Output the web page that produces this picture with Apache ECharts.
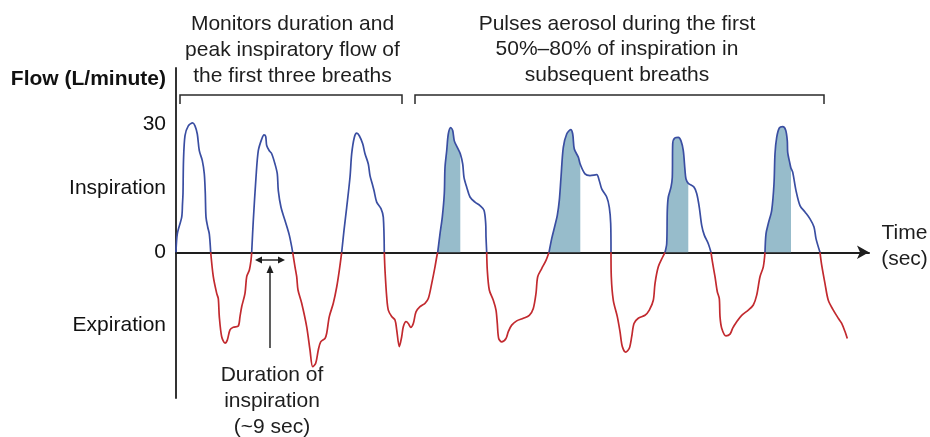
<!DOCTYPE html>
<html>
<head>
<meta charset="utf-8">
<script src="https://cdn.jsdelivr.net/npm/echarts@6/dist/echarts.min.js"></script>
<style>html,body{margin:0;padding:0;background:#fff}#c{width:930px;height:437px}</style>
</head>
<body>
<div id="c"></div>
<script>
// time (arbitrary units along the time axis) and flow (L/minute)
var timeVals = [
0,1.3,5.7,6.5,7.0,7.5,9,12.3,16.7,19,21.3,23.3,26.3,28.3,29.3,30,31.7,33.3,34.7,
37.3,40.7,42.3,43.3,45.7,49,51.3,54,57.3,62.3,64,65.7,69,70.7,73.3,75,75.7,
77.3,80,82.3,85.7,88,89.7,90.7,93.3,95.7,99,101.3,102.3,105,109,113.3,116.7,
119,120.7,122,125.7,130.7,134,136.7,139.7,142.3,144.7,149,150.7,153.3,157.3,160.7,163.3,165.7,
168,170.7,174,175.7,178.3,180.7,183.3,186.7,189,192.3,194,196.7,198,200.7,205,207.3,208.3,
209,210.7,212.3,215.7,219,220.7,223.3,225.7,227.3,230,232.3,234.7,237.3,240,244,249,252.3,255.7,259,260.7,261.7,
264,266.3,268.3,269,270.7,272.3,274.7,276.7,278.3,281.3,284.3,286.7,288,290.7,294,299,304,308,309.7,310,310.7,
311.3,313.3,317.3,320,321.3,322.7,325.7,330,332.3,335.7,340.7,347.3,353.3,357.3,360,361.7,365.7,370,373,
375.7,379,381.3,383.3,385,387.3,390.7,394.7,396.7,398.3,402.3,404.3,409,414,420.7,423.3,425.7,430.7,433.3,434.7,435,
435.3,437.3,441.3,444,446.3,449.7,453.3,455.7,458,462.3,469,473.3,477.3,479,482.3,486.7,489,
490.7,491.3,492.3,495,496.3,496.7,499,502.3,505,507.3,509,510,512.3,518,520.7,523.3,525.7,528.3,532.3,535,
536.7,539,541.3,543.3,544,545.7,550,554,556.7,560.7,565.7,572.3,577.3,580.7,584,587.3,589,
590,592.3,595.7,598,599,600.7,603.3,606.7,609.7,611.3,611.7,614,615,616.7,620,624,629,634,638,640,644,
645.7,649,652.3,657.3,662.3,665.7,669,671.3
];
var flowVals = [
0,4.3,8.2,11.3,13.7,21.4,27.2,29.5,30.2,29.5,27.6,23.7,21.4,18.3,13.7,8.2,5.9,4.3,0,
-5.7,-9.6,-10.8,-15.0,-19.7,-21.2,-20.5,-18.1,-17.5,-17.2,-15.0,-12.7,-9.6,-5.7,-4.2,-1.9,0,
7.4,17.5,23.7,26.4,27.4,27.0,24.9,23.7,23.0,20.6,18.3,14.4,10.5,7.4,4.0,0,
-3.4,-5.7,-8.8,-11.9,-17.4,-22.8,-26.7,-25.9,-22.8,-20.9,-20.1,-18.9,-15.0,-11.9,-8.1,-4.2,0,
5.1,10.5,17.5,23.0,26.8,27.8,27.2,25.3,23.0,20.6,17.9,15.6,14.4,11.7,10.2,8.2,0,
-4.2,-10.4,-13.5,-15.0,-15.8,-18.1,-22.0,-19.7,-17.4,-16.2,-16.6,-17.5,-16.6,-13.9,-12.7,-11.9,-10.8,-7.3,-3.4,-1.1,0,
4.3,8.2,13.7,19.8,23.7,27.6,29.1,28.4,26.0,24.5,23.0,20.6,17.5,15.2,12.9,11.7,10.9,9.8,6.7,3.6,0,
-4.2,-8.8,-11.2,-13.5,-16.6,-20.1,-20.9,-20.1,-18.5,-17.0,-16.0,-15.4,-14.7,-13.1,-9.6,-5.7,-3.8,-1.9,0,
3.2,6.3,8.6,12.1,17.5,24.5,27.6,28.6,27.6,24.1,22.2,20.5,18.3,17.9,18.1,16.7,14.8,12.9,10.5,6.7,0,
-5.7,-11.2,-15.0,-18.5,-22.0,-23.3,-22.4,-19.7,-16.6,-15.4,-14.7,-13.5,-11.2,-7.3,-3.4,-1.1,0,
2.0,9.8,12.9,15.2,17.5,25.3,26.7,26.8,26.0,23.7,19.1,17.1,16.1,15.2,13.7,10.5,6.3,4.0,2.0,0,
-2.6,-5.7,-9.2,-10.8,-15.0,-17.7,-19.5,-19.1,-17.7,-16.2,-14.7,-13.5,-12.3,-10.0,-5.7,-3.4,0,
4.3,6.7,9.8,16.0,23.0,26.8,29.0,29.3,28.5,26.0,23.3,20.6,19.6,18.7,14.4,10.9,9.4,7.8,5.9,3.2,0,
-3.0,-7.3,-11.2,-13.5,-15.4,-16.6,-18.5,-20.1
];
// aerosol pulse windows (start, end) on the time axis
var pulseStart = [261.7, 373, 489, 589];
var pulseEnd   = [284.3, 404.3, 512.3, 615];
// y-axis tick labels
var yTickValues = [30, 15, 0, -17];
var yTickLabels = ['30', 'Inspiration', '0', 'Expiration'];
// annotation texts
var leftNote  = ['Monitors duration and', 'peak inspiratory flow of', 'the first three breaths'];
var rightNote = ['Pulses aerosol during the first', '50%\u201380% of inspiration in', 'subsequent breaths'];
var durationNote = ['Duration of', 'inspiration', '(~9 sec)'];
var timeNote = ['Time', '(sec)'];
var yName = 'Flow (L/minute)';

var FONT = "'Liberation Sans', Arial, Helvetica, sans-serif";
var BLUE = '#3a4ea2', RED = '#c22a2f', SHADE = '#97bccb', INK = '#1e1e1e';
var SMOOTH = 0.3;

var pts = timeVals.map(function (t, i) { return [t, flowVals[i]]; });

// split the trace at its zero crossings: inspiration (blue) / expiration (red)
var segments = [];
var cur = [pts[0]];
for (var i = 1; i < pts.length; i++) {
  cur.push(pts[i]);
  if (pts[i][1] === 0 || i === pts.length - 1) {
    segments.push(cur);
    cur = [pts[i]];
  }
}

var series = [];
pulseStart.forEach(function (s, k) {
  var e = pulseEnd[k];
  series.push({
    type: 'line', showSymbol: false, symbol: 'none', smooth: SMOOTH, z: 2, silent: true,
    data: pts.filter(function (p) { return p[0] >= s && p[0] <= e; }),
    lineStyle: { width: 0, opacity: 0 },
    itemStyle: { color: SHADE },
    areaStyle: { color: SHADE, opacity: 1 }
  });
});
segments.forEach(function (seg) {
  var pos = seg.some(function (p) { return p[1] > 0; });
  series.push({
    type: 'line', data: seg, showSymbol: false, symbol: 'none', smooth: SMOOTH, z: 5, silent: true,
    lineStyle: { width: 1.7, color: pos ? BLUE : RED }, itemStyle: { color: pos ? BLUE : RED }
  });
});

var labelMap = {};
yTickValues.forEach(function (v, i) { labelMap[v] = yTickLabels[i]; });

function txt(lines, x, y, lh, align) {
  return {
    type: 'text', silent: true,
    style: { text: lines.join('\n'), x: x, y: y, fill: INK, fontSize: 21, fontFamily: FONT,
      align: align || 'center', verticalAlign: 'top', lineHeight: lh }
  };
}
function pl(points, w) {
  return { type: 'polyline', silent: true, shape: { points: points }, style: { stroke: '#2a2a2a', lineWidth: w || 1.5, fill: null } };
}
function tri(points) {
  return { type: 'polygon', silent: true, shape: { points: points }, style: { fill: INK } };
}

var chart = echarts.init(document.getElementById('c'), null, { renderer: 'canvas' });
chart.setOption({
  animation: false,
  backgroundColor: '#fff',
  grid: { left: 176, right: 61, top: 68, bottom: 39 },
  xAxis: {
    type: 'value', min: 0, max: 693,
    axisLine: { show: true, onZero: true, lineStyle: { color: INK, width: 2 }, symbol: ['none', 'arrow'], symbolSize: [10, 12] },
    axisTick: { show: false }, axisLabel: { show: false }, splitLine: { show: false }
  },
  yAxis: {
    type: 'value', min: -34, max: 43,
    axisLine: { show: true, onZero: false, lineStyle: { color: '#333', width: 2 } },
    axisTick: { show: false }, splitLine: { show: false },
    axisLabel: {
      show: true, customValues: yTickValues, margin: 10, color: '#111', fontSize: 21, fontFamily: FONT,
      formatter: function (v) { return labelMap[v] !== undefined ? labelMap[v] : ''; }
    }
  },
  series: series,
  graphic: [
    txt(leftNote, 292.5, 11, 26),
    txt(rightNote, 617, 11.5, 25.3),
    txt(timeNote, 904.5, 220.5, 26),
    txt(durationNote, 272, 362.5, 26),
    { type: 'text', silent: true, style: { text: yName, x: 166, y: 79, fill: '#111', fontSize: 21, fontWeight: 'bold', fontFamily: FONT, align: 'right', verticalAlign: 'middle' } },
    pl([[180, 104], [180, 95], [402, 95], [402, 104]]),
    pl([[415, 104], [415, 95], [824, 95], [824, 104]]),
    pl([[259, 260], [281, 260]], 1.5),
    tri([[255, 260], [262, 256.5], [262, 263.5]]),
    tri([[285, 260], [278, 256.5], [278, 263.5]]),
    pl([[270, 348], [270, 270]], 1.5),
    tri([[270, 265], [266.5, 273], [273.5, 273]])
  ]
});
</script>
</body>
</html>
